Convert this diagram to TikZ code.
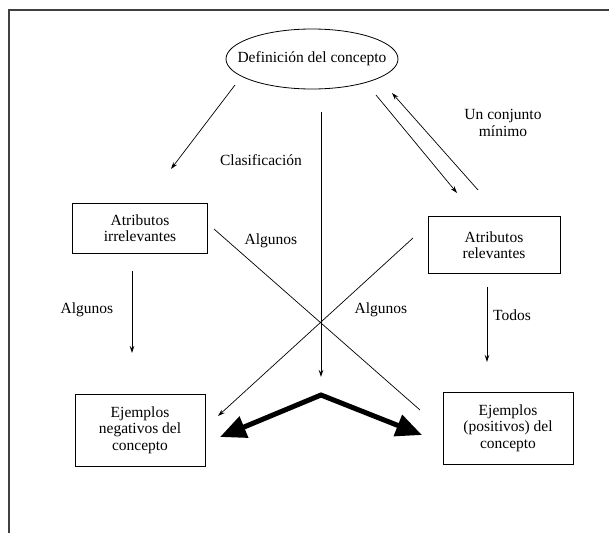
\documentclass[tikz,border=0pt]{standalone}
\usepackage{fontspec}
\setmainfont{Liberation Serif}
\usepackage{tikz}
\usetikzlibrary{arrows.meta,shapes.geometric}

\begin{document}
\begin{tikzpicture}[x=1pt,y=-1pt,every node/.style={font=\fontsize{15.5}{16.5}\selectfont},
  caja/.style={draw,line width=0.8pt,align=center,inner sep=0pt},
  flecha/.style={-{Stealth[length=7pt,width=4.5pt]},line width=0.7pt},
  gruesa/.style={{Triangle[length=26pt,width=22pt]}-{Triangle[length=26pt,width=22pt]},line width=5pt,line join=miter}]
  \useasboundingbox (0,0) rectangle (609,533);
  \draw[line width=1.5pt,black!75] (9,533)--(9,10)--(609,10);
  \node (def) at (312,59){Definición del concepto};
  \draw[line width=0.8pt] (def.center) ellipse (86 and 30);
  \node[caja,minimum width=135pt,minimum height=50pt] (irr) at (140,228){Atributos\\irrelevantes};
  \node[caja,minimum width=132pt,minimum height=57pt] (rel) at (494,245){Atributos\\relevantes};
  \node[caja,minimum width=130pt,minimum height=72pt] (neg) at (140,430){Ejemplos\\negativos del\\concepto};
  \node[caja,minimum width=130pt,minimum height=72pt] (pos) at (508,428){Ejemplos\\(positivos) del\\concepto};
  \coordinate (d1) at (235,85);  \coordinate (i1) at (171,169);
  \coordinate (d2) at (376,95);  \coordinate (r1) at (457,193);
  \coordinate (d3) at (392,93);  \coordinate (r2) at (478,190);
  \coordinate (c1) at (321,112); \coordinate (c2) at (321,377);
  \coordinate (i2) at (132,271); \coordinate (n1) at (132,353);
  \coordinate (r3) at (487,287); \coordinate (p1) at (487,362);
  \coordinate (i3) at (214,229); \coordinate (p2) at (420,410);
  \coordinate (r4) at (413,238); \coordinate (n2) at (218,416);
  \coordinate (cima) at (321,395);
  \coordinate (n3) at (220,437); \coordinate (p3) at (422,435);
  \draw[flecha] (d1)--(i1);
  \draw[flecha] (d2)--(r1);
  \draw[flecha] (r2)--(d3);
  \draw[flecha,line width=0.9pt] (c1)--(c2);
  \draw[flecha,line width=0.9pt] (i2)--(n1);
  \draw[flecha,line width=0.9pt] (r3)--(p1);
  \draw[line width=0.7pt] (i3)--(p2);
  \draw[flecha] (r4)--(n2);
  \draw[gruesa] (n3)--(cima)--(p3);
  \node (lclas) at (261,160){Clasificación};
  \node[align=center] (lmin) at (503,123){Un conjunto\\mínimo};
  \node (lalg1) at (271,241){Algunos};
  \node (lalg2) at (87,310){Algunos};
  \node (lalg3) at (381,310){Algunos};
  \node (ltod) at (512,315){Todos};
\end{tikzpicture}
\end{document}
